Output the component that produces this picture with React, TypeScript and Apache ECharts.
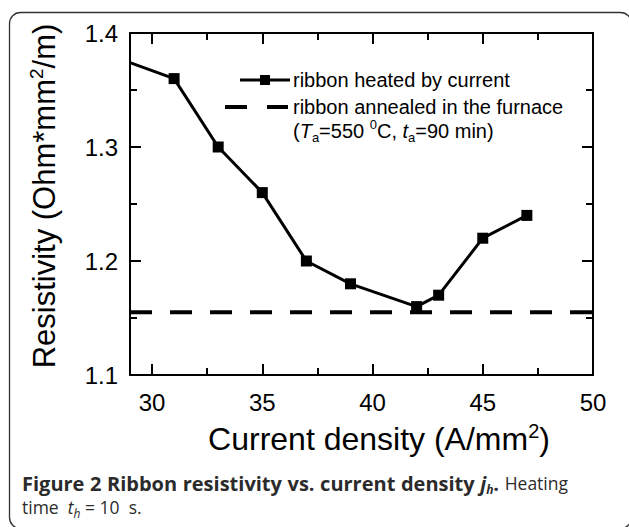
import React, { useEffect, useRef } from "react";
import * as echarts from "echarts";

// Ribbon heated by current: resistivity at each current density
const currentDensity = [29, 31, 33, 35, 37, 39, 42, 43, 45, 47];
const resistivityHeated = [1.374, 1.36, 1.3, 1.26, 1.2, 1.18, 1.16, 1.17, 1.22, 1.24];

// Ribbon annealed in the furnace: constant reference level
const annealedSpan = [29, 50];
const annealedResistivity = 1.155;

// Axis ticks
const xMajorTicks = [30, 35, 40, 45, 50];
const xMinorTicks = [32.5, 37.5, 42.5, 47.5];
const xRange = [29, 50];
const yRange = [1.1, 1.4];

// Caption words (first line is justified)
const captionLine1 = ["Figure", "2", "Ribbon", "resistivity", "vs.", "current", "density", "j|h|.", "Heating"];
const captionBoldCount = 8;

const AXIS_FONT = "'Liberation Sans', Arial, sans-serif";
const CAPTION_FONT = "'Open Sans', 'Noto Sans', sans-serif";
const CAPTION_BOLD_SIZE = 20;
const CAPTION_SIZE = 17.5;
const CAPTION_SUB = 12;
const CAPTION_COLOR = "#2b2b2b";

function measure(text: string, font: string): number {
  const canvas = document.createElement("canvas");
  const ctx = canvas.getContext("2d");
  if (!ctx) return text.length * 9;
  ctx.font = font;
  return ctx.measureText(text).width;
}

function buildCaption(): any[] {
  const left = 22;
  const right = 568;
  const y1 = 483;
  const widths = captionLine1.map((w, i) => {
    const bold = i < captionBoldCount;
    if (w.includes("|")) {
      const [a, b, c] = w.split("|");
      return (
        measure(a, `italic bold ${CAPTION_BOLD_SIZE}px 'Open Sans'`) +
        measure(b, `italic bold ${CAPTION_SUB}px 'Open Sans'`) +
        measure(c, `bold ${CAPTION_BOLD_SIZE}px 'Open Sans'`)
      );
    }
    return measure(w, `${bold ? "bold " : ""}${bold ? CAPTION_BOLD_SIZE : CAPTION_SIZE}px 'Open Sans'`);
  });
  const total = widths.reduce((s, v) => s + v, 0);
  const gap = (right - left - total) / (captionLine1.length - 1);
  const els: any[] = [];
  let x = left;
  captionLine1.forEach((w, i) => {
    const bold = i < captionBoldCount;
    let text = w;
    if (w.includes("|")) {
      const [a, b, c] = w.split("|");
      text = `{bi|${a}}{bsub|${b}}{b|${c}}`;
    }
    els.push({
      type: "text",
      x,
      y: y1,
      style: {
        text,
        fontSize: bold ? CAPTION_BOLD_SIZE : CAPTION_SIZE,
        fontWeight: bold ? "bold" : "normal",
        fontFamily: CAPTION_FONT,
        fill: CAPTION_COLOR,
        verticalAlign: "middle",
        lineHeight: 24,
        rich: {
          b: { fontWeight: "bold", fontSize: CAPTION_BOLD_SIZE, fontFamily: CAPTION_FONT, fill: CAPTION_COLOR },
          bi: { fontWeight: "bold", fontStyle: "italic", fontSize: CAPTION_BOLD_SIZE, fontFamily: CAPTION_FONT, fill: CAPTION_COLOR },
          bsub: {
            fontWeight: "bold",
            fontStyle: "italic",
            fontSize: CAPTION_SUB,
            verticalAlign: "bottom",
            fontFamily: CAPTION_FONT,
            fill: CAPTION_COLOR,
          },
        },
      },
    });
    x += widths[i] + gap;
  });
  els.push({
    type: "text",
    x: left,
    y: 507,
    style: {
      text: "time  {i|t}{sub|h} = 10  s.",
      fontSize: CAPTION_SIZE,
      fontFamily: CAPTION_FONT,
      fill: CAPTION_COLOR,
      verticalAlign: "middle",
      lineHeight: 24,
      rich: {
        i: { fontStyle: "italic", fontSize: CAPTION_SIZE, fontFamily: CAPTION_FONT, fill: CAPTION_COLOR },
        sub: { fontStyle: "italic", fontSize: CAPTION_SUB, verticalAlign: "bottom", fontFamily: CAPTION_FONT, fill: CAPTION_COLOR },
      },
    },
  });
  return els;
}

export default function App() {
  const ref = useRef<HTMLDivElement>(null);

  useEffect(() => {
    if (!ref.current) return;
    const chart = echarts.init(ref.current, undefined, { renderer: "svg" });

    const black = "#000";
    const tickStyle = { color: black, width: 2 };

    const xAxisBase = {
      type: "value" as const,
      min: xRange[0],
      max: xRange[1],
      splitLine: { show: false },
    };

    const heatedData = currentDensity.map((x, i) =>
      i === 0
        ? { value: [x, resistivityHeated[i]], symbol: "none" }
        : { value: [x, resistivityHeated[i]] }
    );

    const option: echarts.EChartsOption = {
      animation: false,
      backgroundColor: "#fff",
      grid: { left: 130, top: 33, right: 36, bottom: 152, containLabel: false },
      xAxis: [
        {
          ...xAxisBase,
          position: "bottom",
          axisLine: { show: true, lineStyle: tickStyle },
          axisTick: { show: true, inside: true, length: 11, customValues: xMajorTicks, lineStyle: tickStyle },
          axisLabel: {
            customValues: xMajorTicks,
            fontSize: 24,
            color: black,
            margin: 15,
            fontFamily: AXIS_FONT,
          },
          name: "Current density (A/mm{sup|2})",
          nameLocation: "middle",
          nameGap: 46,
          nameTextStyle: {
            fontSize: 32,
            color: black,
            fontFamily: AXIS_FONT,
            padding: [0, 0, 0, 35],
            lineHeight: 36,
            rich: {
              sup: { fontSize: 20, verticalAlign: "top", fontFamily: AXIS_FONT, color: black, lineHeight: 22 },
            },
          },
        },
        {
          ...xAxisBase,
          position: "bottom",
          axisLine: { show: false },
          axisTick: { show: true, inside: true, length: 7, customValues: xMinorTicks, lineStyle: tickStyle },
          axisLabel: { show: false },
        },
        {
          ...xAxisBase,
          position: "top",
          axisLine: { show: true, lineStyle: tickStyle },
          axisTick: { show: true, inside: true, length: 11, customValues: xMajorTicks, lineStyle: tickStyle },
          axisLabel: { show: false },
        },
        {
          ...xAxisBase,
          position: "top",
          axisLine: { show: false },
          axisTick: { show: true, inside: true, length: 7, customValues: xMinorTicks, lineStyle: tickStyle },
          axisLabel: { show: false },
        },
      ],
      yAxis: [
        {
          type: "value",
          position: "left",
          min: yRange[0],
          max: yRange[1],
          interval: 0.1,
          splitLine: { show: false },
          axisLine: { show: true, lineStyle: tickStyle },
          axisTick: { show: true, inside: true, length: 11, lineStyle: tickStyle },
          minorTick: { show: true, splitNumber: 2, length: 7, lineStyle: tickStyle },
          axisLabel: {
            fontSize: 24,
            color: black,
            margin: 12,
            padding: [15, 0, 0, 0],
            fontFamily: AXIS_FONT,
            formatter: (v: number) => v.toFixed(1),
          },
          name: "Resistivity (Ohm*mm{sup|2}/m)",
          nameLocation: "middle",
          nameGap: 68,
          nameTextStyle: {
            fontSize: 31,
            color: black,
            fontFamily: AXIS_FONT,
            padding: [0, 0, 0, 16],
            lineHeight: 35,
            rich: {
              sup: { fontSize: 19, verticalAlign: "top", fontFamily: AXIS_FONT, color: black, lineHeight: 21 },
            },
          },
        },
        {
          type: "value",
          position: "right",
          min: yRange[0],
          max: yRange[1],
          interval: 0.1,
          splitLine: { show: false },
          axisLine: { show: true, lineStyle: tickStyle },
          axisTick: { show: true, inside: true, length: 11, lineStyle: tickStyle },
          minorTick: { show: true, splitNumber: 2, length: 7, lineStyle: tickStyle },
          axisLabel: { show: false },
        },
      ],
      series: [
        {
          name: "ribbon heated by current",
          type: "line",
          xAxisIndex: 0,
          yAxisIndex: 0,
          data: heatedData,
          symbol: "rect",
          symbolSize: 11,
          showAllSymbol: true,
          lineStyle: { color: black, width: 3 },
          itemStyle: { color: black },
          z: 3,
        },
        {
          name: "ribbon annealed in the furnace",
          type: "line",
          xAxisIndex: 0,
          yAxisIndex: 0,
          data: annealedSpan.map((x) => [x, annealedResistivity]),
          symbol: "none",
          lineStyle: { color: black, width: 4, type: [22, 18], cap: "butt" },
          z: 2,
        },
      ],
      graphic: [
        // figure frame
        {
          type: "rect",
          shape: { x: 9.5, y: 12.5, width: 622, height: 516, r: 11 },
          style: { fill: "none", stroke: "#333", lineWidth: 1.3 },
          silent: true,
        },
        // legend: heated by current
        {
          type: "line",
          shape: { x1: 240, y1: 80, x2: 290, y2: 80 },
          style: { stroke: black, lineWidth: 3 },
        },
        {
          type: "rect",
          shape: { x: 260, y: 75, width: 10, height: 10 },
          style: { fill: black },
        },
        {
          type: "text",
          x: 293,
          y: 80,
          style: {
            text: "ribbon heated by current",
            fontSize: 20,
            fontFamily: AXIS_FONT,
            fill: black,
            verticalAlign: "middle",
          },
        },
        // legend: annealed in the furnace
        {
          type: "line",
          shape: { x1: 225, y1: 107, x2: 247, y2: 107 },
          style: { stroke: black, lineWidth: 4 },
        },
        {
          type: "line",
          shape: { x1: 267, y1: 107, x2: 288, y2: 107 },
          style: { stroke: black, lineWidth: 4 },
        },
        {
          type: "text",
          x: 293,
          y: 107,
          style: {
            text: "ribbon annealed in the furnace",
            fontSize: 20,
            fontFamily: AXIS_FONT,
            fill: black,
            verticalAlign: "middle",
          },
        },
        {
          type: "text",
          x: 293,
          y: 118,
          style: {
            text: "({i|T}{sub|a}=550 {sup|0}C, {i|t}{sub|a}=90 min)",
            fontSize: 20,
            fontFamily: AXIS_FONT,
            fill: black,
            lineHeight: 26,
            rich: {
              i: { fontSize: 20, fontStyle: "italic", fontFamily: AXIS_FONT, fill: black },
              sub: { fontSize: 13, verticalAlign: "bottom", fontFamily: AXIS_FONT, fill: black },
              sup: { fontSize: 13, verticalAlign: "top", fontFamily: AXIS_FONT, fill: black },
            },
          },
        },
        ...buildCaption(),
      ],
    };

    chart.setOption(option);
    return () => chart.dispose();
  }, []);

  return (
    <div
      ref={ref}
      style={{ position: "fixed", left: 0, top: 0, width: 629, height: 527, background: "#fff" }}
    />
  );
}
